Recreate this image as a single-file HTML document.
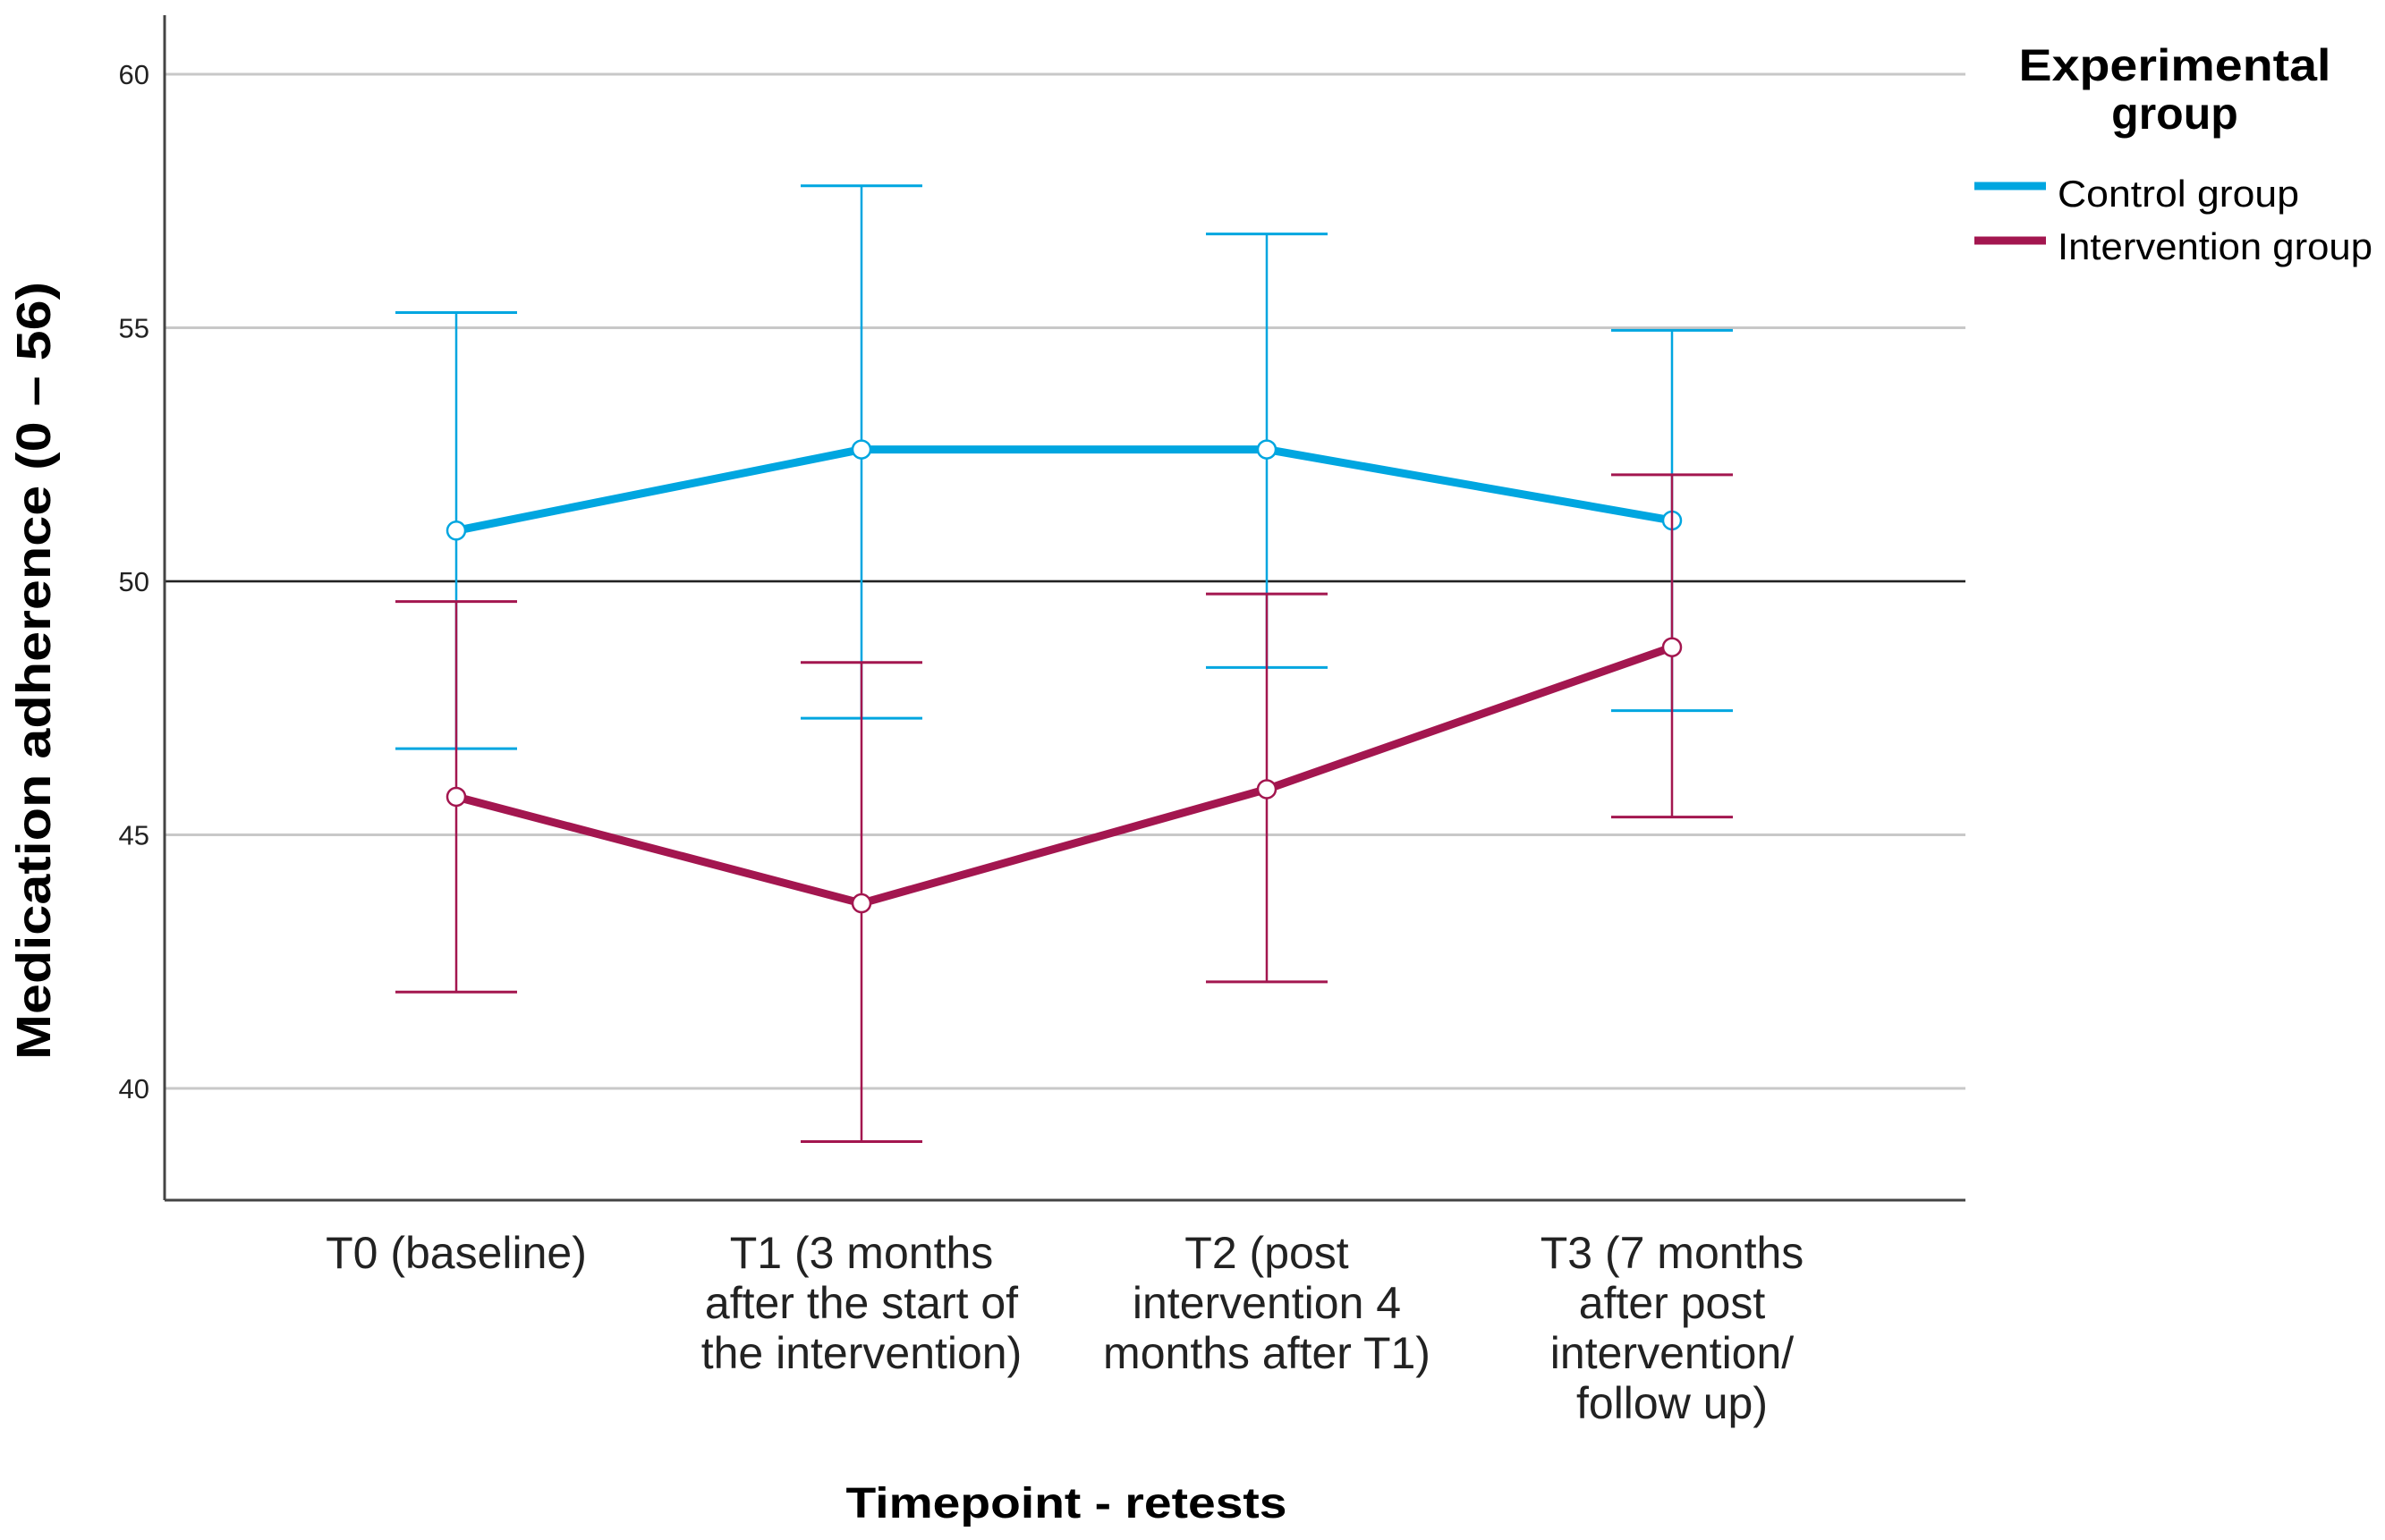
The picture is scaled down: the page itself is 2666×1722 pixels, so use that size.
<!DOCTYPE html>
<html><head><meta charset="utf-8"><style>
html,body{margin:0;padding:0;background:#fff}
svg{display:block}
text{font-family:"Liberation Sans",sans-serif}
</style></head><body>
<svg id="chart" width="2666" height="1722" viewBox="0 0 2666 1722" xmlns="http://www.w3.org/2000/svg">
<g id="grid"></g>
<g id="axes"></g>
<g id="series"></g>
<text transform="translate(56,750) rotate(-90)" text-anchor="middle" font-size="54" font-weight="bold" font-family="'Liberation Sans Narrow','Liberation Sans',sans-serif" textLength="870" lengthAdjust="spacingAndGlyphs">Medication adherence    (0 – 56)</text>
<text x="1192" y="1697" text-anchor="middle" font-size="48" font-weight="bold" textLength="493" lengthAdjust="spacingAndGlyphs">Timepoint - retests</text>
<g>
<text x="2431" y="90" text-anchor="middle" font-size="50" font-weight="bold" textLength="349" lengthAdjust="spacingAndGlyphs">Experimental</text>
<text x="2431" y="144" text-anchor="middle" font-size="50" font-weight="bold">group</text>
<line x1="2207" y1="208" x2="2287" y2="208" stroke="#00a6e0" stroke-width="9"/>
<text x="2300" y="231" font-size="42" font-family="'Liberation Sans Narrow','Liberation Sans',sans-serif" textLength="270" lengthAdjust="spacingAndGlyphs">Control group</text>
<line x1="2207" y1="269" x2="2287" y2="269" stroke="#a3164f" stroke-width="9"/>
<text x="2300" y="290" font-size="42" font-family="'Liberation Sans Narrow','Liberation Sans',sans-serif" textLength="352" lengthAdjust="spacingAndGlyphs">Intervention group</text>
</g>
</svg>
<script>
const categories = [
  ["T0 (baseline)"],
  ["T1 (3 months","after the start of","the intervention)"],
  ["T2 (post","intervention 4","months after T1)"],
  ["T3 (7 months","after post","intervention/","follow up)"]
];
const yTicks = [40, 45, 50, 55, 60];
const controlMean = [51.0, 52.6, 52.6, 51.2];
const controlLow  = [46.7, 47.3, 48.3, 47.45];
const controlHigh = [55.3, 57.8, 56.85, 54.95];
const interventionMean = [45.75, 43.65, 45.9, 48.7];
const interventionLow  = [41.9, 38.95, 42.1, 45.35];
const interventionHigh = [49.6, 48.4, 49.75, 52.1];
const referenceLine = 50;

const NS = "http://www.w3.org/2000/svg";
const plotL = 184, plotR = 2197, plotT = 17, plotB = 1342;
function y(v){ return 650 - (v - 50) * 56.7; }
function x(i){ return 510 + i * 453; }
function mk(parent, tag, attrs){
  const e = document.createElementNS(NS, tag);
  for (const k in attrs) e.setAttribute(k, attrs[k]);
  parent.appendChild(e); return e;
}
const grid = document.getElementById('grid');
const axes = document.getElementById('axes');
const series = document.getElementById('series');

yTicks.forEach(t => {
  const l = mk(grid, 'line', {x1: plotL, x2: plotR, y1: y(t), y2: y(t), stroke: '#c8c8c8', 'stroke-width': 3});
  
  
  const tx = mk(axes, 'text', {x: 167, y: y(t) + 11, 'text-anchor': 'end', 'font-size': 31, fill: '#222'});
  tx.textContent = t;
  
  
});
const ref = mk(grid, 'line', {x1: plotL, x2: plotR, y1: y(referenceLine), y2: y(referenceLine), stroke: '#222', 'stroke-width': 2.5});



const ya = mk(axes, 'line', {x1: plotL, x2: plotL, y1: plotT, y2: plotB, stroke: '#444', 'stroke-width': 3});


const xa = mk(axes, 'line', {x1: plotL, x2: plotR, y1: plotB, y2: plotB, stroke: '#444', 'stroke-width': 3});



categories.forEach((lines, i) => {
  const t = mk(axes, 'text', {'text-anchor': 'middle', 'font-size': 50, fill: '#222'});
  
  
  lines.forEach((s, j) => {
    const ts = mk(t, 'tspan', {x: x(i), y: 1418 + j * 56});
    ts.textContent = s;
  });
});

function drawSeries(name, color, mean, lo, hi){
  const g = mk(series, 'g', {});
  
  
  mean.forEach((m, i) => {
    const e = mk(g, 'line', {x1: x(i), x2: x(i), y1: y(lo[i]), y2: y(hi[i]), stroke: color, 'stroke-width': 2.5});
    
    
    [lo[i], hi[i]].forEach((v, k) => {
      const c = mk(g, 'line', {x1: x(i) - 68, x2: x(i) + 68, y1: y(v), y2: y(v), stroke: color, 'stroke-width': 3});
      
      
    });
  });
  const p = mk(g, 'polyline', {points: mean.map((m, i) => x(i) + ',' + y(m)).join(' '), fill: 'none', stroke: color, 'stroke-width': 9, 'stroke-linejoin': 'round'});
  
  
  mean.forEach((m, i) => {
    const c = mk(g, 'circle', {cx: x(i), cy: y(m), r: 10, fill: '#fff', stroke: color, 'stroke-width': 2.5});
    
    
  });
}
drawSeries('control', '#00a6e0', controlMean, controlLow, controlHigh);
drawSeries('intervention', '#a3164f', interventionMean, interventionLow, interventionHigh);
</script>
</body></html>
